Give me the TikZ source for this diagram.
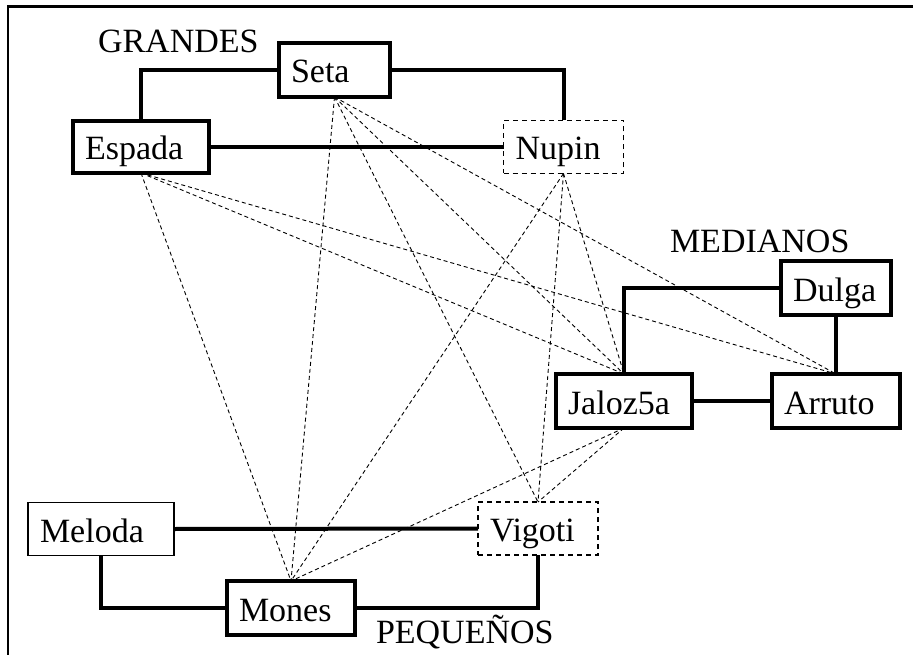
\documentclass[tikz,border=0pt]{standalone}
\usepackage{fontspec}
\setmainfont{Liberation Serif}
\begin{document}
\begin{tikzpicture}[x=1pt,y=-1pt,
  every node/.style={font=\fontsize{34}{40}\selectfont, inner ysep=0pt, inner xsep=12pt, outer sep=0pt,
    align=left, text height=30pt, text depth=4pt},
  thickbox/.style={draw, line width=4pt, minimum height=54pt},
  dashbox/.style={draw, line width=1.4pt, dash pattern=on 5pt off 4pt, minimum height=53pt},
  thinbox/.style={draw, line width=1.4pt, minimum height=53pt},
  link/.style={line width=4pt},
  rel/.style={line width=0.9pt, dash pattern=on 4pt off 3pt},
  grp/.style={anchor=base west, inner sep=0pt, text height=, text depth=}]
\useasboundingbox (0,0) rectangle (913,655);
% frame
\draw[line width=2.6pt] (8,655) -- (8,6.5) -- (913,6.5);
% nodes
\node[thickbox, text width=87pt]  (seta)   at (334.5,70)  {Seta};
\node[thickbox, text width=112pt, minimum height=52pt] (espada) at (141,147) {Espada};
\node[dashbox,  text width=96pt]  (nupin)  at (563.5,147) {Nupin};
\node[thickbox, text width=86pt]  (dulga)  at (836,288)   {Dulga};
\node[thickbox, text width=112pt] (jaloz)  at (624,401)   {Jaloz5a};
\node[thickbox, text width=104pt] (arruto) at (836,401)   {Arruto};
\node[thinbox,  text width=122pt] (meloda) at (101,529)   {Meloda};
\node[thickbox, text width=104pt] (mones)  at (291,608)   {Mones};
\node[dashbox,  text width=96pt]  (vigoti) at (538,528.5) {Vigoti};
% group labels
\node[grp] (lg) at (98,53)   {GRANDES};
\node[grp] (lm) at (670,253) {MEDIANOS};
\node[grp] (lp) at (376,643) {PEQUEÑOS};
% thick connectors
\draw[link] (seta.west) -| (espada.north);
\draw[link] (seta.east) -| (nupin.north);
\draw[link] (espada.east) -- (nupin.west);
\draw[link] (dulga.west) -| (jaloz.north);
\draw[link] (dulga.south) -- (arruto.north);
\draw[link] (jaloz.east) -- (arruto.west);
\draw[link] (meloda.east) -- (vigoti.west);
\draw[link] (meloda.south) |- (mones.west);
\draw[link] (mones.east) -| (vigoti.south);
% dashed relations
\draw[rel] (seta.south) -- (mones.north);
\draw[rel] (seta.south) -- (vigoti.north);
\draw[rel] (seta.south) -- (jaloz.north);
\draw[rel] (seta.south) -- (arruto.north);
\draw[rel] (espada.south) -- (mones.north);
\draw[rel] (espada.south) -- (jaloz.north);
\draw[rel] (espada.south) -- (arruto.north);
\draw[rel] (nupin.south) -- (mones.north);
\draw[rel] (nupin.south) -- (vigoti.north);
\draw[rel] (nupin.south) -- (jaloz.north);
\draw[rel] (jaloz.south) -- (mones.north);
\draw[rel] (jaloz.south) -- (vigoti.north);
\end{tikzpicture}
\end{document}
